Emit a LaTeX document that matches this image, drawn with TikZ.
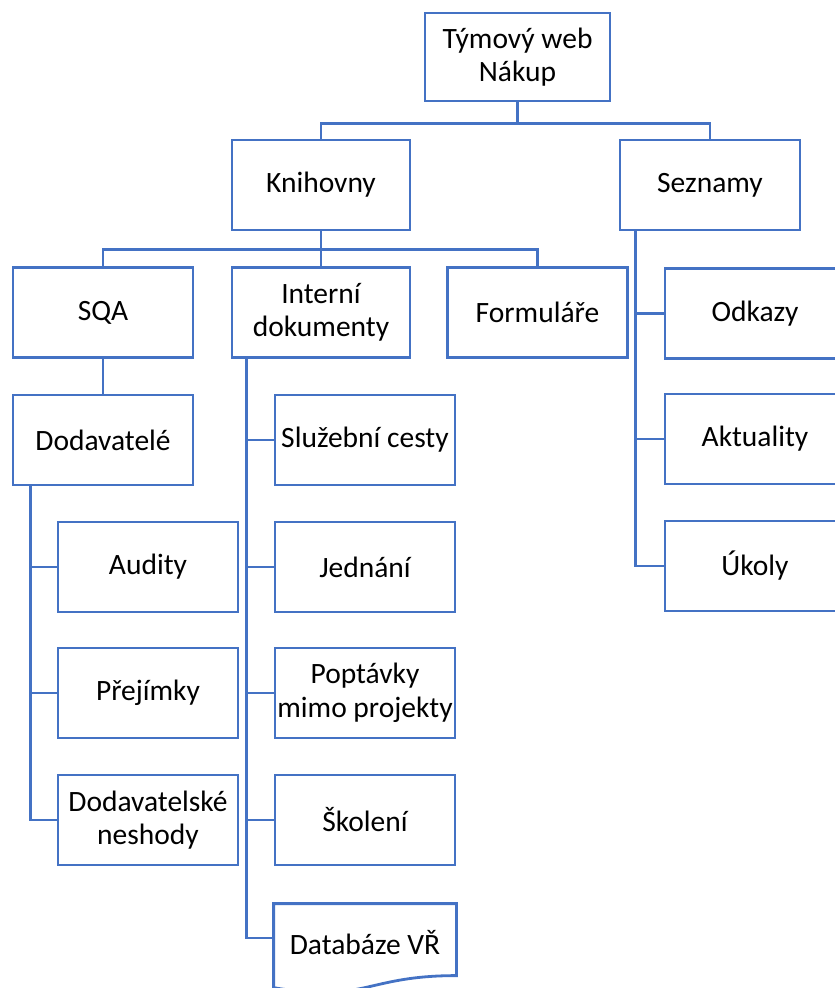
\documentclass[tikz,border=0pt]{standalone}
\usepackage{fontspec}
\setmainfont{Carlito}
\usetikzlibrary{calc}
\definecolor{boxblue}{RGB}{68,114,196}
\begin{document}
\begin{tikzpicture}[x=1pt,y=-1pt,
  box/.style={draw=boxblue, line width=2.8pt, fill=white, minimum width=180pt,
    minimum height=90pt, inner sep=0pt, align=center,
    font=\fontsize{29.5}{33.5}\selectfont},
  link/.style={draw=boxblue, line width=2.8pt}]
\useasboundingbox (0,0) rectangle (835,988);
\clip (0,0) rectangle (835,988);

% level 0 and 1
\node[box, minimum width=185pt, minimum height=88pt] (top) at (517.5,57) {Týmový web\\Nákup};
\node[box, minimum width=178pt] (knih) at (321,185) {Knihovny};
\node[box] (sez) at (710,185) {Seznamy};

% level 2
\node[box] (sqa) at (103,312.5) {SQA};
\node[box, minimum width=178pt] (intern) at (321,312.5) {Interní\\dokumenty};
\node[box] (form) at (537.5,312.5) {Formuláře};

% lists under Seznamy
\node[box] (odk) at (755,313.5) {Odkazy};
\node[box] (akt) at (755,439) {Aktuality};
\node[box] (uko) at (755,566) {Úkoly};

% SQA branch
\node[box] (dod) at (103,440) {Dodavatelé};
\node[box] (aud) at (148,567) {Audity};
\node[box] (pre) at (148,693) {Přejímky};
\node[box] (nes) at (148,820) {Dodavatelské\\neshody};

% internal documents branch
\node[box] (slu) at (365,440) {Služební cesty};
\node[box] (jed) at (365,567) {Jednání};
\node[box] (pop) at (365,693) {Poptávky\\mimo projekty};
\node[box] (sko) at (365,820) {Školení};
\node[box, draw=none, fill=none, minimum height=76pt] (db) at (365,943) {Databáze VŘ};
\draw[boxblue, line width=2.8pt, fill=white]
  (db.north west) -- (db.north east) -- ($(db.north east)+(0,72)$)
  .. controls ($(db.north)+(0,72)$) and ($(db.north)+(0,100)$) .. ($(db.north west)+(0,84)$)
  -- cycle;
\node[font=\fontsize{29.5}{33.5}\selectfont, inner sep=0pt] at (db) {Databáze VŘ};

% connectors
\path[link] (top.south) -- ++(0,21) -| (knih.north);
\path[link] (top.south) -- ++(0,21) -| (sez.north);
\path[link] (knih.south) -- ++(0,18) -| (sqa.north);
\path[link] (knih.south) -- ++(0,18) -| (intern.north);
\path[link] (knih.south) -- ++(0,18) -| (form.north);
\path[link] (sqa.south) -- (dod.north);

\path[link] ([xshift=17pt]sez.south west) |- (odk.west);
\path[link] ([xshift=17pt]sez.south west) |- (akt.west);
\path[link] ([xshift=17pt]sez.south west) |- (uko.west);

\path[link] ([xshift=19pt]dod.south west) |- (aud.west);
\path[link] ([xshift=19pt]dod.south west) |- (pre.west);
\path[link] ([xshift=19pt]dod.south west) |- (nes.west);

\path[link] ([xshift=16pt]intern.south west) |- (slu.west);
\path[link] ([xshift=16pt]intern.south west) |- (jed.west);
\path[link] ([xshift=16pt]intern.south west) |- (pop.west);
\path[link] ([xshift=16pt]intern.south west) |- (sko.west);
\path[link] ([xshift=16pt]intern.south west) |- ([yshift=5pt]db.west);
\end{tikzpicture}
\end{document}
